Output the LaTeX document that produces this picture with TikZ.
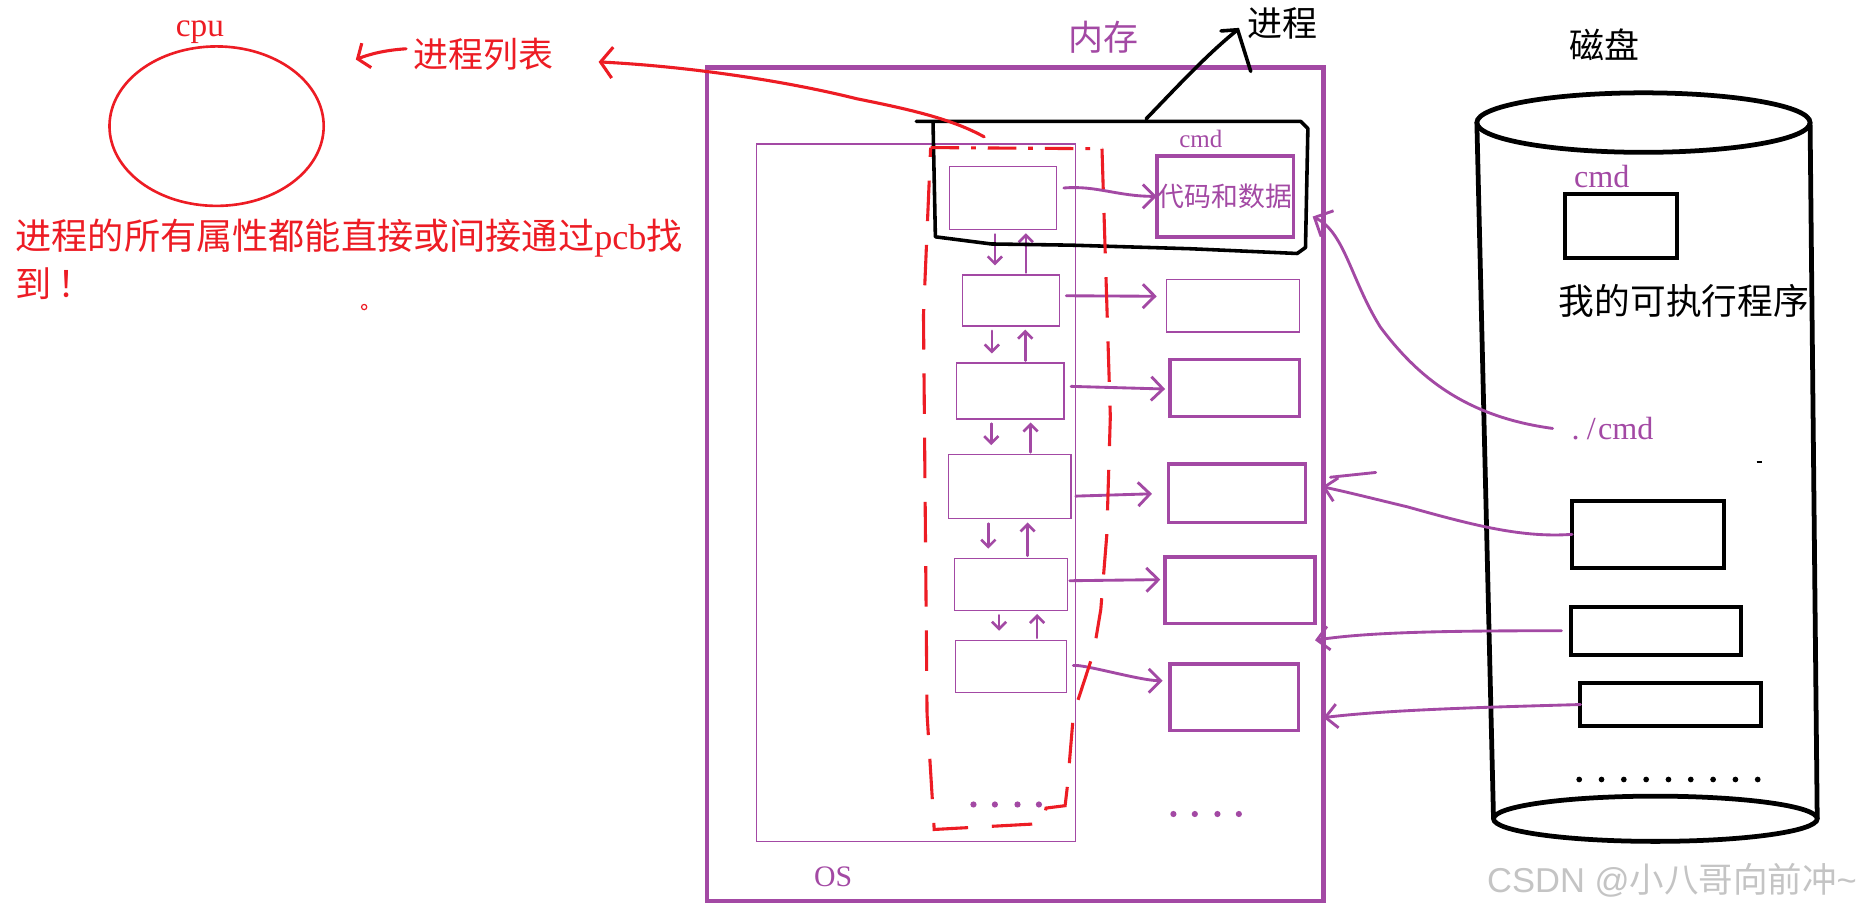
\documentclass[tikz,border=0pt]{standalone}
\usepackage{fontspec}
\setmainfont{Liberation Serif}
\newfontfamily\cjk{Noto Sans CJK SC}
\newfontfamily\wmfont{Liberation Sans}
\usetikzlibrary{arrows.meta,fit,shapes.geometric}
\definecolor{pp}{HTML}{A349A4}
\definecolor{rd}{HTML}{ED1C24}
\definecolor{wm}{HTML}{C4C4C4}
\begin{document}
\begin{tikzpicture}[x=0.5pt,y=-0.5pt,
  txt/.style={inner sep=0pt, outer sep=0pt},
  zh/.style={txt, font=\cjk\fontsize{14.7pt}{17pt}\selectfont},
  thinbox/.style={draw=pp, line width=0.5pt, inner sep=0pt, outer sep=0pt},
  thickbox/.style={draw=pp, line width=1.5pt, inner sep=0pt, outer sep=0pt},
  diskbox/.style={draw=black, line width=1.7pt, inner sep=0pt, outer sep=0pt},
  parr/.style={draw=pp, line width=1.2pt, line cap=round, -{Straight Barb[length=5pt,width=10pt]}},
  varr/.style={draw=pp, line width=1.1pt, line cap=round, -{Straight Barb[length=3pt,width=6pt]}},
  redline/.style={draw=rd, line width=1.3pt, line cap=round},
]
\fill[white] (0,0) rectangle (1568,766);
\useasboundingbox (0,0) rectangle (1568,766);

% ---------------- CPU side ----------------
\node[txt, text=rd, font=\fontsize{14pt}{16pt}\selectfont] (cpulbl) at (168,27) {cpu};
\node[draw=rd, line width=1.1pt, ellipse, minimum width=90pt, minimum height=67pt, inner sep=0pt] (cpu) at (182,106) {};
\node[zh, text=rd] (plist) at (406,46) {进程列表};
\coordinate (cpuin) at (299,50);
\draw[redline, -{Straight Barb[length=4pt,width=11pt]}] ([xshift=-3pt,yshift=2.5pt]plist.west) .. controls (325,42) and (312,45) .. (cpuin);
\node[txt, text=rd, anchor=west, font=\cjk\fontsize{15.2pt}{17pt}\selectfont] (attr1) at (13,200) {进程的所有属性都能直接或间接通过{\rmfamily pcb}找};
\node[txt, text=rd, anchor=west, font=\cjk\fontsize{15.2pt}{17pt}\selectfont] (attr2) at (13,238) {到\,！};
\node[draw=rd, circle, inner sep=0pt, minimum size=2.2pt, line width=0.5pt] (tinydot) at (306,258) {};

% ---------------- Memory ----------------
\node[draw=pp, line width=2pt, inner sep=0pt, outer sep=0pt, fit={(594,57)(1112,757)}] (mem) {};
\node[zh, text=pp] (memlbl) at (927,31) {内存};
\node[thinbox, fit={(636,121)(904,707)}] (os) {};
\node[txt, text=pp, font=\fontsize{12.5pt}{14pt}\selectfont] (oslbl) at (700,737) {OS};

% PCB boxes
\node[thinbox, fit={(798,140)(888,193)}] (p1) {};
\node[thinbox, fit={(809,231)(890,274)}] (p2) {};
\node[thinbox, fit={(804,305)(894,352)}] (p3) {};
\node[thinbox, fit={(797,382)(900,436)}] (p4) {};
\node[thinbox, fit={(802,469)(897,513)}] (p5) {};
\node[thinbox, fit={(803,538)(896,582)}] (p6) {};

% code & data boxes
\node[txt, text=pp, font=\fontsize{10.5pt}{12pt}\selectfont] (mcmd) at (1009,117) {cmd};
\node[thickbox, fit={(972,131)(1087,199)}] (d1) {};
\node[txt, text=pp, font=\cjk\fontsize{11.3pt}{13pt}\selectfont] (d1txt) at (d1.center) {代码和数据};
\node[thinbox, fit={(980,235)(1092,279)}] (d2) {};
\node[thickbox, fit={(983,302)(1092,350)}] (d3) {};
\node[thickbox, fit={(982,390)(1097,439)}] (d4) {};
\node[thickbox, fit={(979,468)(1105,524)}] (d5) {};
\node[thickbox, fit={(983,558)(1091,614)}] (d6) {};

% pcb -> code/data
\draw[parr, shorten <=3pt] ([yshift=4pt]p1.east) to[out=5,in=180] (d1.west);
\draw[parr, shorten <=3pt, shorten >=4pt] ([yshift=2pt]p2.east) -- ([yshift=4pt]d2.west);
\draw[parr, shorten <=3pt, shorten >=2pt] ([yshift=2pt]p3.east) -- ([yshift=-0.5pt]d3.west);
\draw[parr, shorten <=2pt, shorten >=7pt] ([yshift=-4pt]p4.east) -- ([yshift=0pt]d4.west);
\draw[parr, shorten <=1pt, shorten >=2pt] ([yshift=1.5pt]p5.east) -- ([yshift=4.5pt]d5.west);
\draw[parr, shorten <=3pt, shorten >=3pt] (p6.east) .. controls +(15,-2) and +(-25,0) .. ([yshift=7pt]d6.west);

% links between pcbs
\foreach \a/\b/\dx/\ux in {p1/p2/-3.5/9.5, p2/p3/-8/6, p3/p4/-8/8.5, p4/p5/-9/7.5, p5/p6/-5/11}{
  \draw[varr, shorten <=2pt, shorten >=4pt] ([xshift=\dx pt]\a.south) -- ([xshift=\dx pt]\a.south |- \b.north);
  \draw[varr, shorten <=1pt, shorten >=1.5pt] ([xshift=\ux pt]\a.south |- \b.north) -- ([xshift=\ux pt]\a.south);
}

% dots
\foreach \x in {818,836,855,873} \fill[pp] (\x,676) circle[radius=1.3pt];
\foreach \x in {986,1004,1023,1041} \fill[pp] (\x,684) circle[radius=1.3pt];

% process outline
\draw[black, line width=1.5pt, line join=round, line cap=round] (770,102) -- (1093,102) -- (1099,108) -- (1097,208) -- (1090,213) -- (1000,209) -- (900,206) -- (833,205) -- (786,199) -- (784,102);
\coordinate (procT) at (963,100);
\coordinate (jtip) at (1040,25);
\coordinate (jb1) at (1026,26);
\coordinate (jb2) at (1051,60);
\node[zh] (proclbl) at (1078,20) {进程};
\draw[black, line width=1.5pt, line cap=round] (procT) .. controls (990,72) and (1015,45) .. (jtip);
\draw[black, line width=1.5pt, line cap=round] (jb1) -- (jtip) -- (jb2);

% red pcb-list enclosure
\coordinate (pcbtop) at (827,115);
\coordinate (listtip) at (503,52);
\draw[redline, -{Straight Barb[length=5pt,width=13pt]}] (pcbtop) .. controls (800,100) and (765,92) .. (720,83) .. controls (660,68) and (580,56) .. (listtip);
\draw[draw=rd, line width=1.3pt, dash pattern=on 12pt off 5pt on 2pt off 5pt] (782,124) -- (926,125);
\draw[draw=rd, line width=1.3pt, dash pattern=on 17pt off 10pt] (926,125) -- (933,350) -- (930,450) -- (925,512) -- (919,548) -- (902,600) -- (897,660) -- (895,677) -- (879,679) -- (876,692) -- (785,697) -- (779,600) -- (776,265) -- (782,124);

% ---------------- Disk ----------------
\node[zh] (disklbl) at (1348,38) {磁盘};
\node[draw, ellipse, line width=2pt, minimum width=140pt, minimum height=25pt, inner sep=0pt, outer sep=0pt] (dtop) at (1381,103) {};
\node[draw, ellipse, line width=2pt, minimum width=136pt, minimum height=19pt, inner sep=0pt, outer sep=0pt] (dbot) at (1391,688) {};
\draw[line width=2pt] (dtop.west) -- (dbot.west);
\draw[line width=2pt] (dtop.east) -- (dbot.east);
\node[txt, text=pp, font=\fontsize{13.5pt}{15pt}\selectfont] (dcmd) at (1346,148) {cmd};
\node[diskbox, fit={(1315,163)(1409,217)}] (exe) {};
\node[txt, font=\cjk\fontsize{15pt}{17pt}\selectfont] (exelbl) at (1415,253) {我的可执行程序};
\node[txt, text=pp, font=\fontsize{13.5pt}{15pt}\selectfont] (runcmd) at (1355,360) {.\hspace{3pt}/\hspace{1pt}cmd};
\node[diskbox, fit={(1321,421)(1449,477)}] (fa) {};
\node[diskbox, fit={(1320,510)(1463,550)}] (fb) {};
\node[diskbox, fit={(1328,574)(1480,610)}] (fc) {};
\foreach \i in {0,...,8} \fill (1327+\i*18.75,655) circle[radius=1.2pt];
\draw[line width=0.8pt] (1476,388) -- (1481,388);

% disk -> memory
\coordinate (procR) at (1103,182);
\draw[draw=pp, line width=1.2pt, line cap=round, -{Straight Barb[length=6pt,width=12pt]}] ([xshift=-8pt]runcmd.west) .. controls (1230,350) and (1190,315) .. (1160,275) .. controls (1135,235) and (1130,195) .. (procR);
\coordinate (atip) at (1111,409);
\coordinate (as1) at (1118,401);
\coordinate (as2) at (1156,397);
\draw[parr] (fa.west) .. controls (1280,452) and (1240,442) .. (1183,426) .. controls (1150,418) and (1130,413) .. (atip);
\draw[draw=pp, line width=1.2pt, line cap=round] (as1) -- (as2);
\coordinate (btip) at (1105,538);
\draw[parr, shorten <=4pt] (fb.west) .. controls (1220,530) and (1150,531) .. (btip);
\coordinate (ctip) at (1112,603);
\draw[parr] (fc.west) .. controls (1260,594) and (1170,596) .. (ctip);

% watermark
\node[txt, text=wm, font=\wmfont\fontsize{14.5pt}{16pt}\selectfont] (wmk) at (1405,740) {CSDN @{\cjk 小八哥向前冲}\textasciitilde};
\end{tikzpicture}
\end{document}
